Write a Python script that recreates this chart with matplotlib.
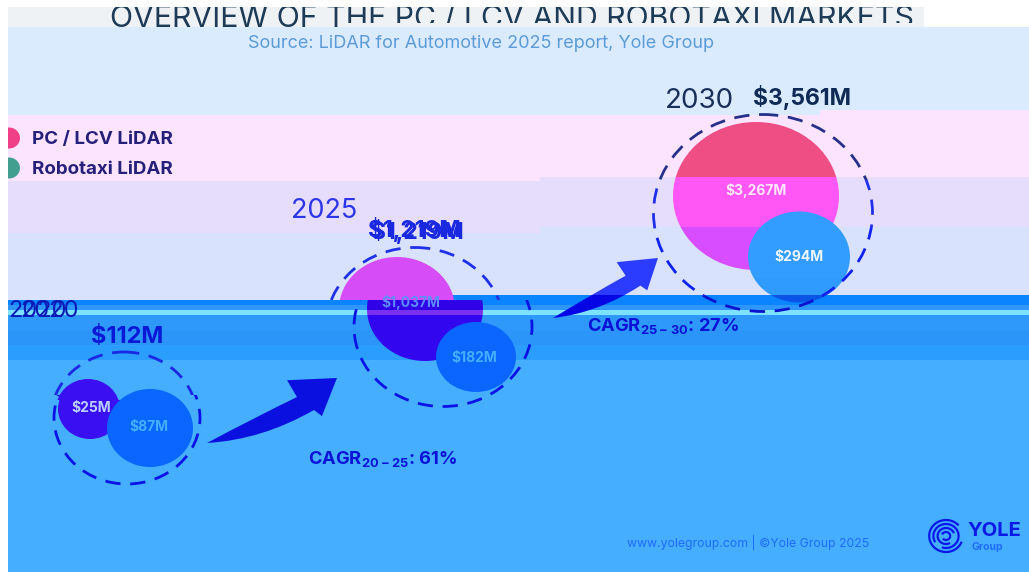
import matplotlib
matplotlib.use("Agg")
import matplotlib.pyplot as plt
from matplotlib.patches import Ellipse, Rectangle, Arc, PathPatch
from matplotlib.path import Path

plt.rcParams['font.family'] = ['Inter', 'DejaVu Sans']
plt.rcParams['mathtext.fontset'] = 'custom'
plt.rcParams['mathtext.bf'] = 'Inter:bold'
plt.rcParams['mathtext.rm'] = 'Inter'

# ---------- data ----------
years = ['2020', '2025', '2030']
pc_lcv = [25, 1037, 3267]
robotaxi = [87, 182, 294]
totals = [112, 1219, 3561]
cagr_periods = ['20-25', '25-30']
cagr_values = [61, 27]
legend_labels = ['PC / LCV LiDAR', 'Robotaxi LiDAR']
title = 'OVERVIEW OF THE PC / LCV AND ROBOTAXI MARKETS'
source = 'Source: LiDAR for Automotive 2025 report, Yole Group'
footer = 'www.yolegroup.com | ©Yole Group 2025'

W, H = 1029, 572
INF = 2000
fig = plt.figure(figsize=(W / 100, H / 100), dpi=100)
ax = fig.add_axes([0, 0, 1, 1])
ax.set_xlim(0, W)
ax.set_ylim(H, 0)
ax.axis('off')

# ---------- background bands: x0, x1, y0, y1, colour ----------
bands = [
    (0, W, 0, H, '#45aeff'),
    (0, W, 0, 27, '#ffffff'),
    (8, 924, 7, 27, '#eef2f4'),
    (8, W, 27, 115, '#dbebfe'),
    (8, W, 115, 181, '#fde4fe'),
    (820, W, 110, 181, '#fde4fe'),
    (540, W, 177, 181, '#e6dcfb'),
    (8, W, 181, 233, '#e6dcfb'),
    (540, W, 227, 233, '#d8e2fd'),
    (8, W, 233, 300, '#d8e2fd'),
    (345, W, 295, 300, '#0a85ff'),
    (8, W, 300, 305, '#0a85ff'),
    (8, W, 305, 310, '#2f96fb'),
    (8, W, 310, 315, '#7de2ff'),
    (8, W, 315, 330, '#2f98fb'),
    (8, W, 330, 345, '#2b95fa'),
    (8, W, 345, 360, '#2a9dff'),
]
for x0, x1, y0, y1, c in bands:
    ax.add_patch(Rectangle((x0, y0), x1 - x0, y1 - y0, fc=c, ec='none', zorder=1))


def zoned(make, zones):
    """Draw an artist once per horizontal zone, clipped to it."""
    for y0, y1, colour, dx in zones:
        art = make(colour, dx)
        clip = Rectangle((-INF, y0), 2 * INF, y1 - y0, transform=ax.transData)
        art.set_clip_on(True)
        art.set_clip_path(clip)


def ellipse(cx, cy, w, h, zones, z, **kw):
    def make(c, dx):
        if kw.get('fill', True):
            e = Ellipse((cx + dx, cy), w, h, fc=c, ec='none', zorder=z)
        else:
            e = Ellipse((cx + dx, cy), w, h, fill=False, ec=c, lw=kw['lw'],
                        ls=(0, (5.5, 3.5)), zorder=z)
        return ax.add_patch(e)
    zoned(make, zones)


def label(x, y, s, size, zones, weight='bold', z=6, ha='center'):
    def make(c, dx):
        return ax.text(x + dx, y, s, fontsize=size, color=c, fontweight=weight,
                       ha=ha, va='center', zorder=z)
    zoned(make, zones)


def arrow(start, end, zones):
    """Swoosh arrow; shape given as fractions along / across start->end."""
    sx, sy = start
    ux, uy = end[0] - sx, end[1] - sy
    nx, ny = -uy, ux
    pt = lambda a, b: (sx + a * ux + b * nx, sy + a * uy + b * ny)
    verts = [pt(0, 0), pt(0.35, -0.01), pt(0.695, -0.006), pt(0.686, -0.14), pt(1, 0),
             pt(0.79, 0.188), pt(0.76, 0.126), pt(0.35, 0.15), pt(0, 0)]
    codes = [Path.MOVETO, Path.CURVE3, Path.CURVE3, Path.LINETO, Path.LINETO,
             Path.LINETO, Path.LINETO, Path.CURVE3, Path.CURVE3]
    def make(c, dx):
        p = Path([(x + dx, y) for x, y in verts], codes)
        return ax.add_patch(PathPatch(p, fc=c, ec='none', zorder=4))
    zoned(make, zones)


money = lambda v: f'${v:,}M'

# ---------- 2020 ----------
ellipse(127, 418, 146, 132, [(0, 395, '#1a28e6', -3), (395, H, '#0a12e8', 0)], 5, fill=False, lw=2)
ellipse(90, 409, 64, 60, [(0, 400, '#3a10f2', -2), (400, H, '#3a10f2', 0)], 3)
label(91, 408, money(pc_lcv[0]), 10, [(0, H, '#bcd0ff', 0)], z=3.5)
ellipse(150, 428, 86, 78, [(0, H, '#0a66ff', 0)], 3.8)
label(149, 427, money(robotaxi[0]), 10, [(0, H, '#45aeff', 0)])
label(127, 337, money(totals[0]), 17, [(0, H, '#0a18d8', 0)])
label(37, 311, years[0], 17, [(0, H, '#0a1ab8', 0)], weight='normal')
label(50, 311, years[0], 17, [(0, H, '#0a1ab8', 0)], weight='normal')

# ---------- 2025 ----------
ellipse(443, 327, 178, 159, [(0, 300, '#2030e8', -28), (300, H, '#0a12e8', 0)], 5, fill=False, lw=2)
ellipse(425, 309, 116, 104, [(0, 300, '#d64df8', -28), (300, 310, '#3000e6', 0),
                             (310, 315, '#7a30f0', 0), (315, 361, '#3306f0', 0)], 3)
ellipse(476, 357, 80, 70, [(0, H, '#0a66ff', 0)], 3)
label(411, 303, money(pc_lcv[1]), 10, [(0, H, '#5f8cff', 0)])
label(474, 358, money(robotaxi[1]), 10, [(0, H, '#45aeff', 0)])
label(324, 211, years[1], 19.5, [(0, H, '#2d35e8', 0)], weight='normal')
label(414, 229, money(totals[1]), 16.5, [(0, H, '#1a28e0', 0)])
label(417, 231, money(totals[1]), 16.5, [(0, 300, '#1a28e0', 0)])

# ---------- 2030 ----------
ellipse(763, 213, 219, 197, [(0, 180, '#25308a', 0), (180, 228, '#2030e8', 0),
                             (228, 296, '#1020f0', 0), (296, H, '#0a12d0', 0)], 5, fill=False, lw=2)
ellipse(756, 196, 166, 148, [(0, 177, '#ef4e85', 0), (177, 227, '#ff57f5', 0), (227, H, '#d84dff', 0)], 3)
ellipse(799, 257, 102, 91, [(0, 278, '#339dff', 0), (278, 295, '#2f9bff', 0), (295, H, '#0a55e8', 0)], 3)
label(756, 190, money(pc_lcv[2]), 10, [(0, H, '#ffe6ff', 0)])
label(799, 257, money(robotaxi[2]), 10, [(0, H, '#eef6ff', 0)])
label(699, 101, years[2], 20, [(0, H, '#18305a', 0)], weight='normal')
label(802, 97, money(totals[2]), 16.5, [(0, H, '#0f2b55', 0)])

# ---------- arrows ----------
arrow((207, 443), (337, 378), [(0, H, '#0a10e0', 0)])
arrow((553, 318), (658, 258), [(0, 295, '#2c3cff', 0), (295, H, '#0505e6', 0)])

# ---------- CAGR ----------
label(383, 459, f'CAGR$_{{\\mathbf{{{cagr_periods[0]}}}}}$: {cagr_values[0]}%', 13.2, [(0, H, '#0a12d8', 0)])
label(663, 326, f'CAGR$_{{\\mathbf{{{cagr_periods[1]}}}}}$: {cagr_values[1]}%', 13.2, [(0, H, '#0a12d8', 0)])

# ---------- legend ----------
legend_colours = ['#f03f86', '#409f8e']
for lab, c, y in zip(legend_labels, legend_colours, [138, 168]):
    ax.add_patch(Ellipse((9, y), 22, 21, fc=c, ec='none', zorder=3))
    ax.text(32, y + 2, lab, fontsize=13.5, fontweight='bold', color='#25207a',
            ha='left', va='center', zorder=6)

# ---------- title, source, footer ----------
for lim, rx in [((7, 27.5), (0, 345)), ((7, 22.5), (345, W))]:
    t = ax.text(512, 27.5, title, fontsize=21.8, color='#1d3a57', ha='center', va='baseline', zorder=6)
    t.set_clip_on(True)
    t.set_clip_path(Rectangle((rx[0], lim[0]), rx[1] - rx[0], lim[1] - lim[0], transform=ax.transData))
ax.text(481, 44, source, fontsize=13, color='#5c9bd8', ha='center', va='center', zorder=6)
ax.text(748, 543, footer, fontsize=8.8, color='#1f6cff', ha='center', va='center', zorder=6)

# ---------- logo ----------
for d, a0, a1 in [(32, 20, 320), (24, 150, 470), (16, 60, 340), (8, 200, 500)]:
    ax.add_patch(Arc((946, 536), d * 1.05, d, theta1=a0, theta2=a1, ec='#0a18e8', lw=1.6, zorder=6))
ax.text(994, 531, 'YOLE', fontsize=14.5, fontweight='bold', color='#0a18e8', ha='center', va='center', zorder=6)
ax.text(987, 547, 'Group', fontsize=7.5, fontweight='bold', color='#1f6cff', ha='center', va='center', zorder=6)

# ---------- white left strip ----------
ax.add_patch(Rectangle((0, 0), 8, H, fc='#ffffff', ec='none', zorder=8))

fig.savefig('out.png', dpi=100)
